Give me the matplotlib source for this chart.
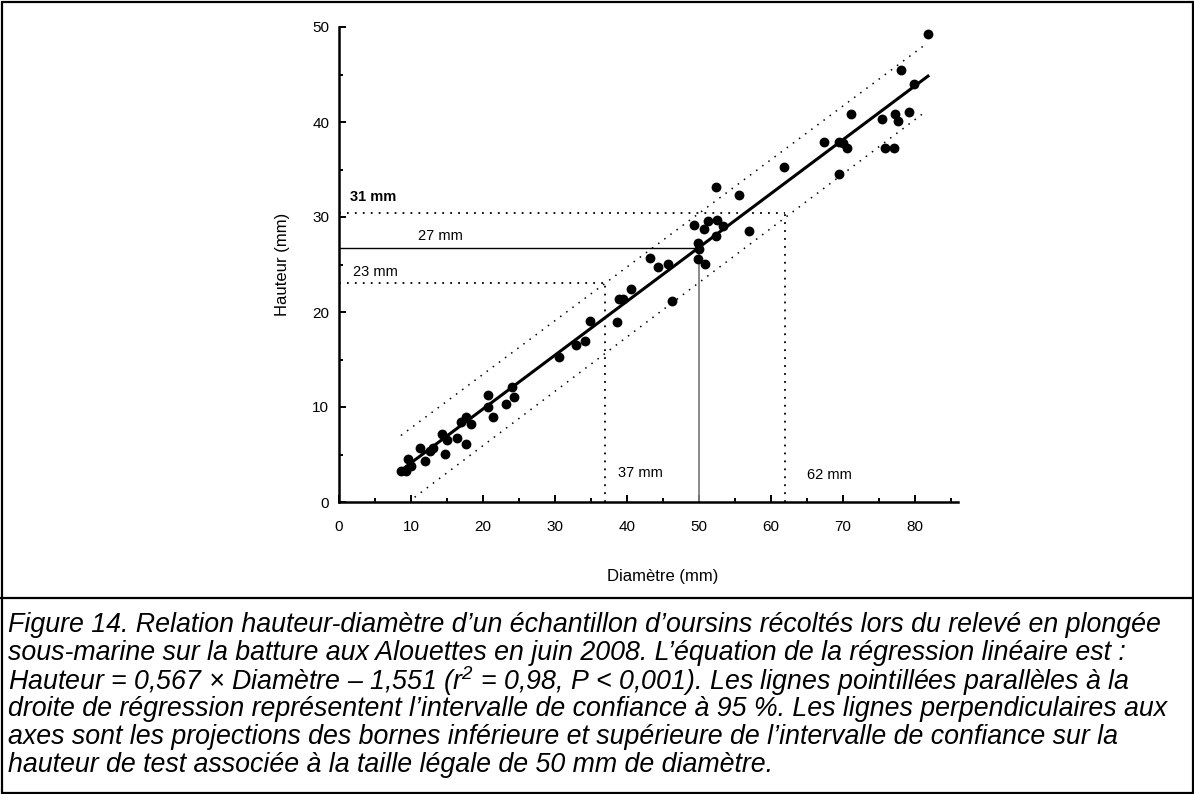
import matplotlib
matplotlib.use("Agg")
import matplotlib.pyplot as plt
from matplotlib.lines import Line2D
from matplotlib.patches import Rectangle
from matplotlib.ticker import MultipleLocator

plt.rcParams['font.family'] = ['Liberation Sans', 'DejaVu Sans']
plt.rcParams['mathtext.fontset'] = 'custom'
plt.rcParams['mathtext.rm'] = 'Liberation Sans:italic'
plt.rcParams['mathtext.it'] = 'Liberation Sans:italic'

# diametre (mm), hauteur (mm)
diametre = [8.6, 9.3, 9.6, 10.0, 11.25, 12.0, 12.6, 13.0, 14.3, 14.7, 14.95,
            16.4, 17.0, 17.6, 17.6, 18.3, 20.65, 20.75, 21.35, 23.15, 24.0, 24.3,
            30.6, 32.9, 34.2, 34.9, 38.6, 38.9, 39.5, 40.55, 43.15, 44.35, 45.65,
            46.25, 49.9, 50.0, 49.8, 50.8, 49.3, 50.75, 51.2, 52.45, 53.4, 52.3,
            56.9, 52.3, 55.5, 61.85, 67.3, 69.5, 69.95, 70.5, 75.8, 77.1, 69.5,
            71.05, 75.35, 77.2, 77.6, 79.1, 78.05, 79.8, 81.75]
hauteur = [3.3, 3.3, 4.5, 3.8, 5.65, 4.35, 5.4, 5.65, 7.2, 5.05, 6.5,
           6.7, 8.45, 9.0, 6.1, 8.2, 11.3, 9.95, 8.9, 10.3, 12.1, 11.1,
           15.3, 16.5, 17.0, 19.1, 19.0, 21.4, 21.4, 22.4, 25.7, 24.7, 25.05,
           21.2, 27.3, 26.6, 25.6, 25.05, 29.2, 28.7, 29.6, 29.7, 29.1, 28.0,
           28.5, 33.2, 32.3, 35.25, 37.9, 37.9, 37.8, 37.3, 37.25, 37.25, 34.5,
           40.85, 40.3, 40.85, 40.15, 41.1, 45.5, 44.0, 49.3]

# regression: Hauteur = 0.567 * Diametre - 1.551
pente, ordonnee = 0.567, -1.551
reg_x = [8.9, 81.8]
# 95 % confidence bounds, end points
ic_sup_x, ic_sup_y = [8.6, 81.7], [7.0, 48.3]
ic_inf_x, ic_inf_y = [10.5, 81.3], [0.5, 41.0]

# projections for the legal size of 50 mm
diam_proj = [37, 50, 62]
haut_proj = [23.05, 26.7, 30.4]
etiq_haut = ['23 mm', '27 mm', '31 mm']
etiq_diam = ['37 mm', '62 mm']

legende = [
    "Figure 14. Relation hauteur-diamètre d’un échantillon d’oursins récoltés lors du relevé en plongée",
    "sous-marine sur la batture aux Alouettes en juin 2008. L’équation de la régression linéaire est :",
    "Hauteur = 0,567 × Diamètre – 1,551 (r$^2$ = 0,98, P < 0,001). Les lignes pointillées parallèles à la",
    "droite de régression représentent l’intervalle de confiance à 95 %. Les lignes perpendiculaires aux",
    "axes sont les projections des bornes inférieure et supérieure de l’intervalle de confiance sur la",
    "hauteur de test associée à la taille légale de 50 mm de diamètre.",
]

W, H = 1194, 794
xmax = 86
fig = plt.figure(figsize=(W / 100, H / 100), dpi=100)
ax = fig.add_axes([339 / W, (H - 502) / H, xmax * 7.2 / W, 475 / H])

dots = (0, (1, 3.4))
ax.plot(ic_sup_x, ic_sup_y, color='black', lw=1.1, linestyle=(0, (1, 4)))
ax.plot(ic_inf_x, ic_inf_y, color='black', lw=1.1, linestyle=(0, (1, 4)))

# horizontal and vertical projections
ax.plot([0, diam_proj[0]], [haut_proj[0]] * 2, color='black', lw=1.3, linestyle=dots)
ax.plot([diam_proj[0]] * 2, [0, haut_proj[0]], color='black', lw=1.3, linestyle=dots)
ax.plot([0, diam_proj[1]], [haut_proj[1]] * 2, color='black', lw=1.0)
ax.plot([diam_proj[1]] * 2, [0, haut_proj[1]], color='#808080', lw=1.3)
ax.plot([0, diam_proj[2]], [haut_proj[2]] * 2, color='black', lw=1.3, linestyle=dots)
ax.plot([diam_proj[2]] * 2, [0, haut_proj[2]], color='black', lw=1.3, linestyle=dots)

ax.plot(reg_x, [pente * x + ordonnee for x in reg_x], color='black', lw=2.2)
ax.scatter(diametre, hauteur, s=50, color='black', zorder=3, linewidths=0)

ax.text(1.5, 32.1, etiq_haut[2], fontsize=10.5, fontweight='bold', va='center')
ax.text(11.0, 28.0, etiq_haut[1], fontsize=10.5, va='center')
ax.text(1.9, 24.2, etiq_haut[0], fontsize=10.5, va='center')
ax.text(38.8, 3.05, etiq_diam[0], fontsize=10.5, va='center')
ax.text(65.0, 2.8, etiq_diam[1], fontsize=10.5, va='center')

ax.set_xlim(0, xmax)
ax.set_ylim(0, 50)
ax.xaxis.set_major_locator(MultipleLocator(10))
ax.xaxis.set_minor_locator(MultipleLocator(5))
ax.yaxis.set_major_locator(MultipleLocator(10))
ax.yaxis.set_minor_locator(MultipleLocator(5))
ax.set_xticks(range(0, 81, 10))
ax.tick_params(which='both', direction='in', width=1.4, labelsize=11)
ax.tick_params(which='major', length=5)
ax.tick_params(which='minor', length=3)
ax.tick_params(axis='x', pad=13)
ax.tick_params(axis='y', pad=7)
for s in ['top', 'right']:
    ax.spines[s].set_visible(False)
for s in ['left', 'bottom']:
    ax.spines[s].set_linewidth(1.8)

fig.text(282 / W, 1 - 264 / H, 'Hauteur (mm)', rotation=90, fontsize=12,
         ha='center', va='center')
fig.text(663 / W, 1 - 577 / H, 'Diamètre (mm)', fontsize=12,
         ha='center', va='center')

# frame around chart and caption
fig.add_artist(Rectangle((1.5 / W, 1.5 / H), (W - 3) / W, (H - 3) / H,
                         transform=fig.transFigure, fill=False, lw=1.6,
                         edgecolor='black'))
fig.add_artist(Line2D([0, 1], [1 - 598 / H] * 2, color='black', lw=1.6))

for i, ligne in enumerate(legende):
    fig.text(8 / W, 1 - (625 + 28 * i) / H, ligne, fontsize=19.3,
             style='italic', ha='left', va='center')

fig.savefig('out.png', dpi=100)
